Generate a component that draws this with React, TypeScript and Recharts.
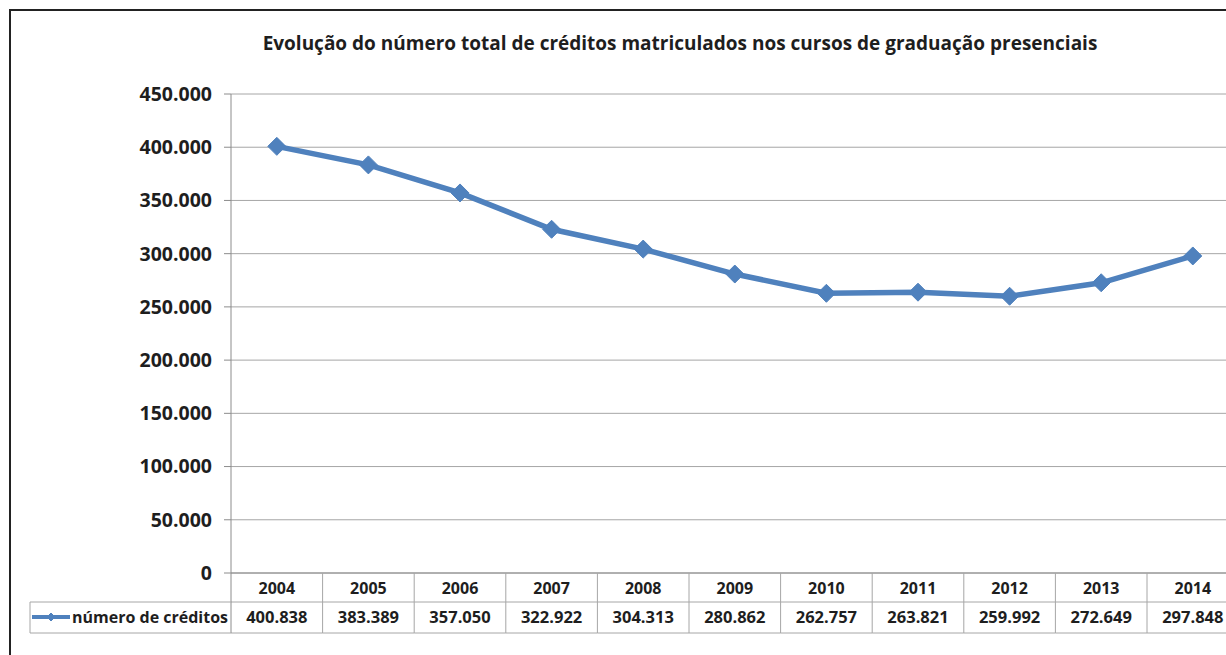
import React from 'react';
import { LineChart, Line, XAxis, YAxis, CartesianGrid } from 'recharts';

const years = ['2004', '2005', '2006', '2007', '2008', '2009', '2010', '2011', '2012', '2013', '2014'];
const creditos = [400838, 383389, 357050, 322922, 304313, 280862, 262757, 263821, 259992, 272649, 297848];
const yTicks = [0, 50000, 100000, 150000, 200000, 250000, 300000, 350000, 400000, 450000];

const seriesName = 'número de créditos';
const title = 'Evolução do número total de créditos matriculados nos cursos de graduação presenciais';

const data = years.map((year, i) => ({ year, value: creditos[i] }));

// layout (page pixels)
const PLOT_LEFT = 231;
const PLOT_TOP = 94;
const PLOT_BOTTOM = 573;
const BAND = 91.6;
const CHART_W = 1240;
const CHART_H = 655;
const Y_AXIS_W = 60;
const X_AXIS_H = 60;
const ROW_MID = 602;
const ROW_END = 633;
const LEGEND_LEFT = 30;

const BLUE = '#4F81BD';
const GRID = '#a6a6a6';
const TEXT = '#1e1e1e';
const FONT = '"Open Sans", sans-serif';

const fmt = (v: number) => String(v).replace(/\B(?=(\d{3})+(?!\d))/g, '.');

const Diamond = ({ cx, cy, r }: { cx: number; cy: number; r: number }) => (
  <polygon points={`${cx},${cy - r} ${cx + r},${cy} ${cx},${cy + r} ${cx - r},${cy}`} fill={BLUE} stroke={BLUE} />
);

const TableTick = (props: any) => {
  const { x, payload } = props;
  const i = payload.index;
  const left = x - BAND / 2;
  const right = x + BAND / 2;
  return (
    <g>
      <line x1={left} x2={right} y1={ROW_MID} y2={ROW_MID} stroke={GRID} />
      <line x1={left} x2={right} y1={ROW_END} y2={ROW_END} stroke={GRID} />
      <line x1={right} x2={right} y1={PLOT_BOTTOM} y2={ROW_END} stroke={GRID} />
      {i === 0 && (
        <g>
          <line x1={left} x2={left} y1={PLOT_BOTTOM} y2={ROW_END} stroke="#8c8c8c" />
          <line x1={LEGEND_LEFT} x2={left} y1={ROW_MID} y2={ROW_MID} stroke={GRID} />
          <line x1={LEGEND_LEFT} x2={left} y1={ROW_END} y2={ROW_END} stroke={GRID} />
          <line x1={LEGEND_LEFT} x2={LEGEND_LEFT} y1={ROW_MID} y2={ROW_END} stroke={GRID} />
          <line x1={LEGEND_LEFT + 2} x2={LEGEND_LEFT + 40} y1={617} y2={617} stroke={BLUE} strokeWidth={4} />
          <Diamond cx={LEGEND_LEFT + 21} cy={617} r={4} />
          <text x={left - 3} y={623} textAnchor="end" fontSize={16} fontWeight={700} fill={TEXT} fontFamily={FONT}>
            {seriesName}
          </text>
        </g>
      )}
      <text x={x} y={594} textAnchor="middle" fontSize={16} fontWeight={700} fill={TEXT} fontFamily={FONT}>
        {payload.value}
      </text>
      <text x={x} y={623} textAnchor="middle" fontSize={16.5} fontWeight={700} fill={TEXT} fontFamily={FONT}>
        {fmt(creditos[i])}
      </text>
    </g>
  );
};

const Marker = (props: any) => {
  const { cx, cy, index } = props;
  return <Diamond key={`d-${index}`} cx={cx} cy={cy} r={9} />;
};

export default function App() {
  return (
    <div style={{ position: 'fixed', left: 0, top: 0, width: 1226, height: 655, overflow: 'hidden', background: '#fff' }}>
      <div style={{ position: 'absolute', left: 9, top: 9, width: 1300, height: 700, borderLeft: '2px solid #222', borderTop: '2px solid #222' }} />
      <div
        style={{
          position: 'absolute',
          left: 130,
          width: 1100,
          top: 30,
          textAlign: 'center',
          fontFamily: FONT,
          fontWeight: 700,
          fontSize: 19,
          color: TEXT,
        }}
      >
        {title}
      </div>
      <LineChart
        width={CHART_W}
        height={CHART_H}
        data={data}
        margin={{
          top: PLOT_TOP,
          left: PLOT_LEFT - Y_AXIS_W,
          right: CHART_W - PLOT_LEFT - BAND * years.length,
          bottom: CHART_H - PLOT_BOTTOM - X_AXIS_H,
        }}
      >
        <CartesianGrid vertical={false} stroke={GRID} />
        <XAxis
          dataKey="year"
          height={X_AXIS_H}
          padding={{ left: BAND / 2, right: BAND / 2 }}
          axisLine={{ stroke: '#8c8c8c' }}
          tickLine={false}
          tickSize={0}
          tickMargin={0}
          interval={0}
          tick={<TableTick />}
        />
        <YAxis
          width={Y_AXIS_W}
          domain={[0, 450000]}
          ticks={yTicks}
          interval={0}
          axisLine={{ stroke: '#8c8c8c' }}
          tickLine={{ stroke: '#8c8c8c' }}
          tickSize={7}
          tickMargin={12}
          tickFormatter={fmt}
          tick={{ fontSize: 19.5, fontWeight: 700, fill: TEXT, fontFamily: FONT }}
        />
        <Line
          type="linear"
          dataKey="value"
          stroke={BLUE}
          strokeWidth={5.5}
          dot={<Marker />}
          activeDot={false}
          isAnimationActive={false}
        />
      </LineChart>
    </div>
  );
}
